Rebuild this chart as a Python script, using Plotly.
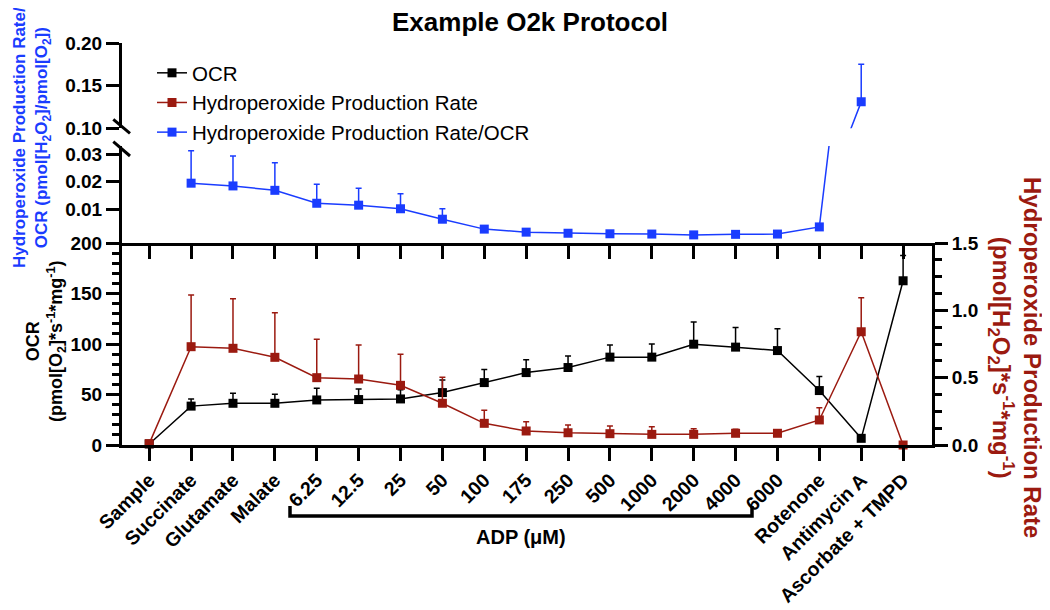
import plotly.graph_objects as go

# ---------------- data ----------------
categories = ["Sample", "Succinate", "Glutamate", "Malate", "6.25", "12.5", "25", "50",
              "100", "175", "250", "500", "1000", "2000", "4000", "6000",
              "Rotenone", "Antimycin A", "Ascorbate + TMPD"]
ocr = [1.0, 38.5, 41.3, 41.3, 44.6, 45.0, 45.6, 51.9, 61.8, 71.7, 76.7, 87.0, 87.0,
       99.8, 96.9, 93.5, 53.9, 6.6, 162.6]
ocr_err = [0, 7, 10, 9, 11.5, 10.5, 9, 12.5, 13, 12.6, 11.5, 12, 13, 22, 19.5, 21.5, 14, 1, 25]
h2o2 = [0.01, 0.73, 0.718, 0.651, 0.500, 0.490, 0.443, 0.310, 0.161, 0.104, 0.091, 0.084,
        0.079, 0.079, 0.087, 0.087, 0.186, 0.841, 0.0]
h2o2_err = [0, 0.384, 0.368, 0.331, 0.285, 0.253, 0.230, 0.193, 0.097, 0.069, 0.058, 0.057,
            0.057, 0.042, 0.03, 0.01, 0.091, 0.253, 0]
ratio = [None, 0.0195, 0.0185, 0.0169, 0.0122, 0.0115, 0.0102, 0.0064, 0.0028, 0.0017,
         0.0013, 0.0011, 0.0010, 0.0007, 0.0009, 0.0010, 0.0036, 0.131, None]
ratio_err = [0, 0.0118, 0.0109, 0.0100, 0.0069, 0.0062, 0.0055, 0.0038, 0, 0, 0, 0, 0, 0,
             0, 0, 0, 0.044, 0]

BLACK = "#000000"
RED = "#9b1a10"
BLUE = "#1a3cff"
FONT = "Liberation Sans, Arial, sans-serif"

# page has an 8px body margin; figure is sized so it ends at the window edge
OFF = 8
FIG_W, FIG_H = 1050 - OFF, 610 - OFF
# plot-area geometry in page pixels
PL, PR, PT, PB = 122, 932, 43, 445
L, R, T, B = PL - OFF, PR - OFF, PT - OFF, PB - OFF
W, H = R - L, B - T


def px_x(p):
    return (p - OFF - L) / W


def px_y(p):
    return (B - (p - OFF)) / H


fig = go.Figure()


def err(arr, color):
    return dict(type="data", array=arr, arrayminus=[0] * len(arr), symmetric=False,
                color=color, thickness=1.5, width=3)


fig.add_trace(go.Scatter(x=categories, y=ocr, name="OCR", xaxis="x", yaxis="y4",
                         error_y=err(ocr_err, BLACK), cliponaxis=False,
                         marker=dict(symbol="square", size=9, color=BLACK),
                         line=dict(width=1.5, color=BLACK), mode="lines+markers"))
fig.add_trace(go.Scatter(x=categories, y=h2o2, name="Hydroperoxide Production Rate",
                         xaxis="x", yaxis="y5", error_y=err(h2o2_err, RED), cliponaxis=False,
                         marker=dict(symbol="square", size=9, color=RED),
                         line=dict(width=1.5, color=RED), mode="lines+markers"))
fig.add_trace(go.Scatter(x=categories, y=ratio, name="Hydroperoxide Production Rate/OCR",
                         xaxis="x2", yaxis="y2", error_y=err(ratio_err, BLUE),
                         marker=dict(symbol="square", size=9, color=BLUE),
                         line=dict(width=1.5, color=BLUE), mode="lines+markers"))
fig.add_trace(go.Scatter(x=categories, y=ratio, name="Hydroperoxide Production Rate/OCR",
                         xaxis="x3", yaxis="y3", showlegend=False, error_y=err(ratio_err, BLUE),
                         marker=dict(symbol="square", size=9, color=BLUE),
                         line=dict(width=1.5, color=BLUE), mode="lines+markers"))

tickfont = dict(family=FONT, size=19, color=BLACK, weight="bold")
xtickfont = dict(family=FONT, size=19.5, color=BLACK, weight="bold")
xrange = [-0.65, 18.69]
axline = dict(showline=True, linewidth=3, linecolor=BLACK, ticks="outside", ticklen=13,
              tickwidth=3, tickcolor=BLACK, showgrid=False, zeroline=False, automargin=False)

d_bottom = [0, px_y(243)]
d_mid = [px_y(243), px_y(146)]
d_top = [px_y(128.3), 1.0]

fig.update_layout(
    width=FIG_W, height=FIG_H,
    margin=dict(l=L, r=FIG_W - R, t=T, b=FIG_H - B, autoexpand=False),
    plot_bgcolor="white", paper_bgcolor="white",
    font=dict(family=FONT, color=BLACK),
    title=dict(text="Example O2k Protocol", x=(530 - OFF) / FIG_W, xanchor="center",
               y=1 - (22 - OFF) / FIG_H, yanchor="middle", xref="container", yref="container",
               font=dict(family=FONT, size=26, color=BLACK, weight="bold")),
    showlegend=True,
    legend=dict(x=px_x(152), y=px_y(53), xanchor="left", yanchor="top",
                font=dict(family=FONT, size=20.5, color=BLACK), bgcolor="rgba(0,0,0,0)",
                traceorder="normal"),
    xaxis=dict(domain=[0, 1], anchor="y4", type="category", range=xrange,
               tickangle=-45, tickfont=xtickfont, **axline),
    xaxis2=dict(domain=[0, 1], anchor="y2", type="category", range=xrange,
                showticklabels=False, matches="x", **axline),
    xaxis3=dict(domain=[0, 1], anchor="y3", type="category", range=xrange,
                visible=False, matches="x"),
    yaxis4=dict(domain=d_bottom, anchor="x", range=[0, 200], tickvals=[0, 50, 100, 150, 200],
                tickfont=tickfont,
                minor=dict(dtick=10, tick0=0, ticklen=7, tickwidth=3, tickcolor=BLACK,
                           ticks="outside", showgrid=False),
                **axline),
    yaxis5=dict(overlaying="y4", side="right", anchor="x", range=[0, 1.5],
                tickvals=[0, 0.5, 1.0, 1.5], tickformat=".1f", tickfont=tickfont,
                minor=dict(dtick=0.125, tick0=0, ticklen=7, tickwidth=3, tickcolor=BLACK,
                           ticks="outside", showgrid=False),
                **axline),
    yaxis2=dict(domain=d_mid, anchor="x2", range=[-0.00225, (236.8 - 146) / 2750],
                tickvals=[0.01, 0.02, 0.03], tickformat=".2f", tickfont=tickfont, **axline),
    yaxis3=dict(domain=d_top, anchor="x3", range=[0.10, 0.20],
                tickvals=[0.10, 0.15, 0.20], tickformat=".2f", tickfont=tickfont, **axline),
)

# axis titles
fig.add_annotation(
    text="Hydroperoxide Production Rate/<br>OCR (pmol[H<sub>2</sub>O<sub>2</sub>]/pmol[O<sub>2</sub>])",
    xref="paper", yref="paper", x=px_x(32), y=px_y(138), xanchor="center", yanchor="middle",
    textangle=-90, showarrow=False,
    font=dict(family=FONT, size=17, color=BLUE, weight="bold"))
fig.add_annotation(
    text="OCR<br>(pmol[O<sub>2</sub>]*s<sup>-1</sup>*mg<sup>-1</sup>)",
    xref="paper", yref="paper", x=px_x(46), y=px_y(342), xanchor="center", yanchor="middle",
    textangle=-90, showarrow=False,
    font=dict(family=FONT, size=18, color=BLACK, weight="bold"))
fig.add_annotation(
    text="Hydroperoxide Production Rate<br>(pmol[H<sub>2</sub>O<sub>2</sub>]*s<sup>-1</sup>*mg<sup>-1</sup>)",
    xref="paper", yref="paper", x=px_x(1015), y=px_y(357), xanchor="center", yanchor="middle",
    textangle=90, showarrow=False,
    font=dict(family=FONT, size=24, color=RED, weight="bold"))
fig.add_annotation(
    text="ADP (μM)", xref="paper", yref="paper", x=px_x(521), y=px_y(537),
    xanchor="center", yanchor="middle", showarrow=False,
    font=dict(family=FONT, size=20, color=BLACK, weight="bold"))

# ADP bracket
x0, x1, yb, yt = px_x(290), px_x(752), px_y(516), px_y(506)
fig.add_shape(type="path", xref="paper", yref="paper",
              path=f"M {x0} {yt} L {x0} {yb} L {x1} {yb} L {x1} {yt}",
              line=dict(color=BLACK, width=3.5))

# axis break marks
for (ax0, ay0, ax1, ay1) in [(113.3, 119.3, 130, 133.3), (113.3, 141.7, 130, 156)]:
    fig.add_shape(type="line", xref="paper", yref="paper",
                  x0=px_x(ax0), y0=px_y(ay0), x1=px_x(ax1), y1=px_y(ay1),
                  line=dict(color=BLACK, width=3))

fig.write_html("out.html")
